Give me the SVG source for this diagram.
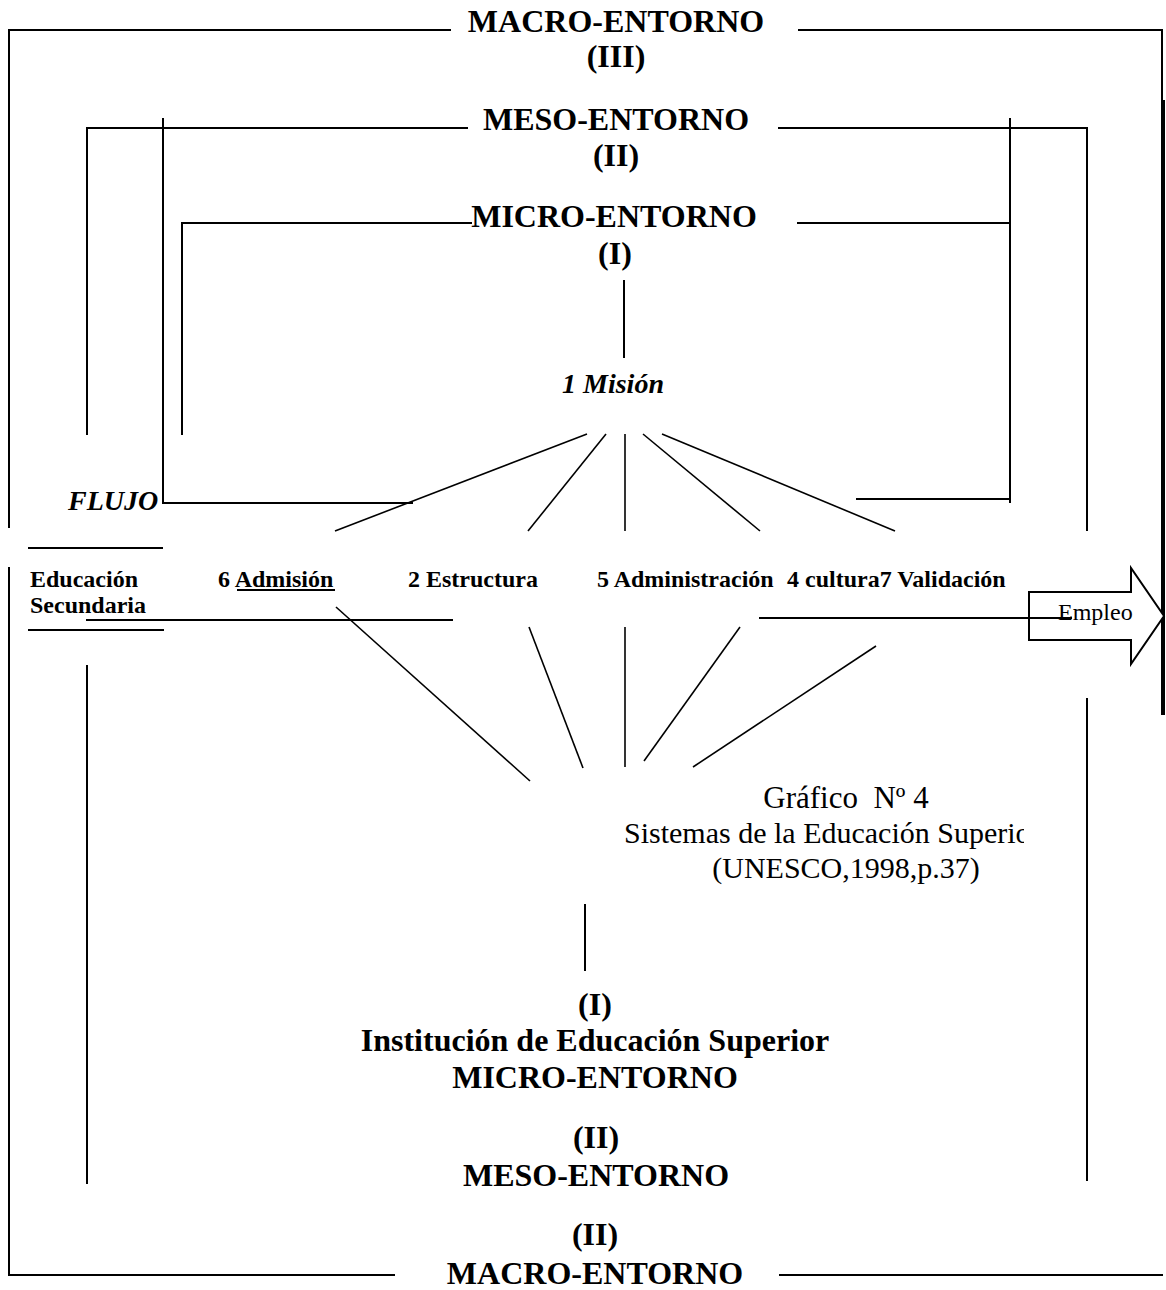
<svg xmlns="http://www.w3.org/2000/svg" width="1166" height="1290" viewBox="0 0 1166 1290">
<style>
  .t { font-family: "Liberation Serif", "Times New Roman", serif; fill: #000; }
  .b { font-weight: bold; }
  .i { font-style: italic; }
  .m { text-anchor: middle; }
  .ln { stroke: #000; stroke-width: 2; fill: none; stroke-linecap: butt; }
  .dg { stroke: #000; stroke-width: 1.6; fill: none; }
</style>
<defs>
  <clipPath id="clipSup"><rect x="600" y="800" width="424" height="60"/></clipPath>
</defs>
<rect width="1166" height="1290" fill="#fff"/>

<g id="connectors">
  <!-- outer macro frame -->
  <path class="ln" d="M451,30 H9 V528"/>
  <path class="ln" d="M798,30 H1162 V715"/>
  <line class="ln" x1="1164" y1="100" x2="1164" y2="715"/>
  <path class="ln" d="M9,567 V1275 H395"/>
  <line class="ln" x1="779" y1="1275" x2="1163" y2="1275"/>
  <!-- meso frame -->
  <path class="ln" d="M468,128 H87 V435"/>
  <path class="ln" d="M778,128 H1087 V531"/>
  <line class="ln" x1="87" y1="665" x2="87" y2="1184"/>
  <line class="ln" x1="1087" y1="698" x2="1087" y2="1181"/>
  <!-- micro frame -->
  <path class="ln" d="M472,223 H182 V435"/>
  <line class="ln" x1="797" y1="223" x2="1010" y2="223"/>
  <line class="ln" x1="1010" y1="118" x2="1010" y2="503"/>
  <line class="ln" x1="856" y1="499" x2="1010" y2="499"/>
  <path class="ln" d="M163,118 V503 H413"/>
  <!-- mision stem -->
  <line class="ln" x1="624" y1="280" x2="624" y2="358"/>
  <!-- upper radiating lines -->
  <line class="dg" x1="587" y1="434" x2="335" y2="531"/>
  <line class="dg" x1="606" y1="434" x2="528" y2="531"/>
  <line class="dg" x1="625" y1="434" x2="625" y2="531"/>
  <line class="dg" x1="643" y1="434" x2="760" y2="531"/>
  <line class="dg" x1="662" y1="434" x2="895" y2="531"/>
  <!-- lower radiating lines -->
  <line class="dg" x1="336" y1="607" x2="530" y2="781"/>
  <line class="dg" x1="529" y1="627" x2="583" y2="768"/>
  <line class="dg" x1="625" y1="627" x2="625" y2="767"/>
  <line class="dg" x1="740" y1="627" x2="644" y2="761"/>
  <line class="dg" x1="876" y1="646" x2="693" y2="767"/>
  <!-- Educacion Secundaria brackets -->
  <line class="ln" x1="28" y1="548" x2="163" y2="548"/>
  <line class="ln" x1="28" y1="630" x2="164" y2="630"/>
  <line class="ln" x1="86" y1="620" x2="453" y2="620"/>
  <!-- underline Admision -->
  <line class="ln" x1="237" y1="590" x2="335" y2="590"/>
  <!-- bottom stem -->
  <line class="ln" x1="585" y1="904" x2="585" y2="971"/>
</g>

<g id="node-empleo">
  <path d="M1029,592 H1131 V568 L1164,616 L1131,664 V640 H1029 Z" fill="#fff" stroke="#000" stroke-width="2"/>
  <text class="t" x="1058" y="620" font-size="24">Empleo</text>
</g>
<line class="ln" x1="759" y1="618" x2="1072" y2="618"/>

<g id="node-macro-top">
  <text class="t b m" x="616" y="32" font-size="32">MACRO-ENTORNO</text>
  <text class="t b m" x="616" y="67" font-size="32">(III)</text>
</g>
<g id="node-meso-top">
  <text class="t b m" x="616" y="130" font-size="32">MESO-ENTORNO</text>
  <text class="t b m" x="616" y="166" font-size="32">(II)</text>
</g>
<g id="node-micro-top">
  <text class="t b m" x="614" y="227" font-size="32">MICRO-ENTORNO</text>
  <text class="t b m" x="615" y="264" font-size="32">(I)</text>
</g>
<g id="node-mision">
  <text class="t b i m" x="613" y="393" font-size="28">1 Misión</text>
</g>
<g id="node-flujo">
  <text class="t b i" x="68" y="510" font-size="28">FLUJO</text>
</g>
<g id="node-educacion">
  <text class="t b" x="30" y="587" font-size="24">Educación</text>
  <text class="t b" x="30" y="613" font-size="24">Secundaria</text>
</g>
<g id="node-admision">
  <text class="t b" x="218" y="587" font-size="24">6 Admisión</text>
</g>
<g id="node-estructura">
  <text class="t b" x="408" y="587" font-size="24">2 Estructura</text>
</g>
<g id="node-administracion">
  <text class="t b" x="597" y="587" font-size="24">5 Administración</text>
</g>
<g id="node-cultura-validacion">
  <text class="t b" x="787" y="587" font-size="24">4 cultura7 Validación</text>
</g>
<g id="node-caption">
  <text class="t m" x="846" y="808" font-size="31" xml:space="preserve">Gráfico  Nº 4</text>
  <text class="t" x="624" y="843" font-size="30" clip-path="url(#clipSup)">Sistemas de la Educación Superior</text>
  <text class="t m" x="846" y="878" font-size="30">(UNESCO,1998,p.37)</text>
</g>
<g id="node-institucion">
  <text class="t b m" x="595" y="1015" font-size="32">(I)</text>
  <text class="t b m" x="595" y="1051" font-size="32">Institución de Educación Superior</text>
  <text class="t b m" x="595" y="1088" font-size="32">MICRO-ENTORNO</text>
</g>
<g id="node-meso-bottom">
  <text class="t b m" x="596" y="1148" font-size="32">(II)</text>
  <text class="t b m" x="596" y="1186" font-size="32">MESO-ENTORNO</text>
</g>
<g id="node-macro-bottom">
  <text class="t b m" x="595" y="1245" font-size="32">(II)</text>
  <text class="t b m" x="595" y="1284" font-size="32">MACRO-ENTORNO</text>
</g>
</svg>
